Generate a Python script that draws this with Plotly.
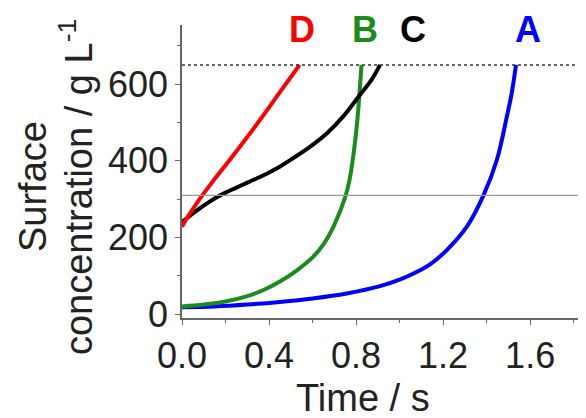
import plotly.graph_objects as go

# Data
t_A = [0.0, 0.15, 0.30, 0.45, 0.60, 0.757, 0.91, 1.0, 1.064, 1.14, 1.217, 1.309, 1.385, 1.447, 1.493, 1.515, 1.535]
c_A = [18, 20, 25, 32, 41, 54, 73, 90, 106, 130, 167, 228, 309, 402, 515, 575, 650]

t_B = [0.0, 0.1, 0.2, 0.3, 0.375, 0.45, 0.525, 0.6, 0.65, 0.7, 0.75, 0.77, 0.79, 0.805, 0.815, 0.825]
c_B = [20, 25, 33, 47, 63, 85, 113, 148, 182, 233, 305, 350, 425, 500, 570, 650]

t_C = [0.0, 0.04, 0.08, 0.12, 0.16, 0.20, 0.25, 0.30, 0.37, 0.435, 0.50, 0.58, 0.665, 0.74, 0.818, 0.87, 0.91]
c_C = [240, 258, 275, 291, 305, 317, 330, 343, 361, 380, 403, 433, 471, 515, 572, 610, 650]

t_D = [0.0, 0.02, 0.05, 0.085, 0.14, 0.20, 0.244, 0.30, 0.359, 0.42, 0.474, 0.51, 0.54]
c_D = [228, 248, 274, 303, 345, 388, 420, 462, 507, 555, 598, 626, 650]

series_names = ["A", "B", "C", "D"]
series_colors = ["#0000ff", "#1a8c1a", "#000000", "#ff0000"]
label_x = [1.59, 0.84, 1.06, 0.55]
label_y = 741

sat_level = 650
half_level = 310
x_ticks = [0.0, 0.4, 0.8, 1.2, 1.6]
y_ticks = [0, 200, 400, 600]

FONT = "Liberation Sans, Arial, sans-serif"
TICK_SIZE = 36
TITLE_SIZE = 38
TEXT_COLOR = "#222222"

fig = go.Figure()

fig.add_hline(y=sat_level, line=dict(color="#333333", width=1.5, dash="dot"))
fig.add_hline(y=half_level, line=dict(color="#9a9a9a", width=1.2))

for t, c, col in zip([t_A, t_B, t_C, t_D], [c_A, c_B, c_C, c_D], series_colors):
    fig.add_trace(go.Scatter(x=t, y=c, mode="lines",
                             line=dict(color=col, width=4, shape="spline", smoothing=1.0),
                             showlegend=False, hoverinfo="skip"))

for name, lx, col in zip(series_names, label_x, series_colors):
    fig.add_annotation(x=lx, y=label_y, text="<b>%s</b>" % name, showarrow=False,
                       font=dict(family=FONT, size=36, color=col),
                       xanchor="center", yanchor="middle")

# axis titles placed as annotations to match the reference position
fig.add_annotation(xref="paper", yref="paper", x=0.457, y=0, yshift=-80,
                   text="Time / s", showarrow=False,
                   font=dict(family=FONT, size=TITLE_SIZE, color=TEXT_COLOR),
                   xanchor="center", yanchor="middle")
fig.add_annotation(xref="paper", yref="paper", x=0, xshift=-149, y=0.447,
                   text="Surface", showarrow=False, textangle=-90,
                   font=dict(family=FONT, size=TITLE_SIZE, color=TEXT_COLOR),
                   xanchor="center", yanchor="middle")
fig.add_annotation(xref="paper", yref="paper", x=0, xshift=-106, y=0.447,
                   text="concentration / g L<sup>-1</sup>", showarrow=False, textangle=-90,
                   font=dict(family=FONT, size=TITLE_SIZE, color=TEXT_COLOR),
                   xanchor="center", yanchor="middle")

fig.update_layout(
    width=586, height=418,
    margin=dict(l=182, r=8, t=25, b=100),
    paper_bgcolor="white", plot_bgcolor="white",
    font=dict(family=FONT, size=TICK_SIZE, color=TEXT_COLOR),
    showlegend=False,
)
fig.update_xaxes(
    range=[0, 1.82], tickvals=x_ticks, ticktext=["%.1f" % v for v in x_ticks],
    showgrid=False, zeroline=False, showline=True, linecolor="#666666", linewidth=1.5,
    ticks="outside", ticklen=5, tickcolor="#666666",
    minor=dict(dtick=0.2, ticks="outside", ticklen=3, tickcolor="#666666"),
    tickfont=dict(size=TICK_SIZE),
)
fig.update_yaxes(
    range=[-10, 754], tickvals=y_ticks,
    showgrid=False, zeroline=False, showline=True, linecolor="#666666", linewidth=1.5,
    ticks="outside", ticklen=5, tickcolor="#666666",
    minor=dict(dtick=100, ticks="outside", ticklen=3, tickcolor="#666666"),
    tickfont=dict(size=TICK_SIZE),
)

fig.write_html("out.html")
